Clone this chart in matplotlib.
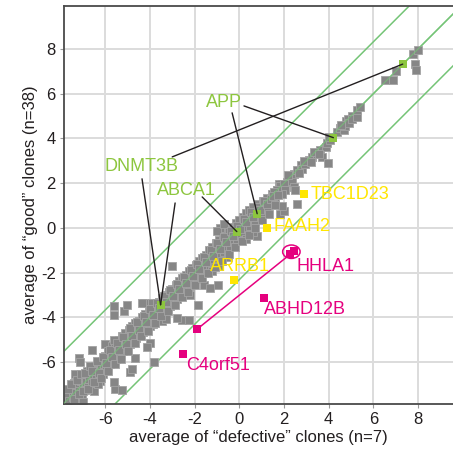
import matplotlib.pyplot as plt
from matplotlib.patches import Ellipse

plt.rcParams['font.family'] = ['Liberation Sans', 'DejaVu Sans']
plt.rcParams['axes.unicode_minus'] = False

# all other genes (grey squares)
gray_x = [-7.75, -7.65, -7.6, -7.5, -7.45, -7.4, -7.35, -7.3, -7.25, -7.2, -7.15, -7.1, -7.05, -7.0,
          -6.95, -6.9, -6.85, -6.8, -6.75, -6.7, -6.65, -6.6, -6.55, -6.5, -6.45, -6.4, -6.35, -6.3,
          -6.25, -6.2, -6.15, -6.1, -6.05, -6.0,
          -7.34, -7.19, -7.12, -6.59, -6.0, -6.3, -7.0,
          -5.95, -5.9, -5.85, -5.8, -5.75, -5.7, -5.65, -5.6, -5.55, -5.5, -5.45, -5.4, -5.35, -5.3,
          -5.25, -5.2, -5.15, -5.1, -5.05, -5.0, -4.95, -4.9, -4.85, -4.8, -4.75, -4.7, -4.65, -4.6, -4.55,
          -5.62, -5.62, -5.17, -5.02, -5.62, -5.55, -5.25, -5.62, -4.65, -4.87, -4.8, -4.27,
          -4.5, -4.45, -4.4, -4.35, -4.3, -4.25, -4.2, -4.15, -4.1, -4.05, -4.0, -3.95, -3.9, -3.85,
          -3.8, -3.75, -3.7, -3.65, -3.6, -3.55, -3.45, -3.4, -3.35, -3.3, -3.25, -3.2, -3.15, -3.1, -3.05,
          -3.9, -3.45, -3.98, -3.83, -3.02, -4.13, -3.3, -4.35,
          -3.0, -2.95, -2.9, -2.85, -2.8, -2.75, -2.7, -2.65, -2.6, -2.55, -2.5, -2.45, -2.4, -2.35,
          -2.3, -2.25, -2.2, -2.15, -2.1, -2.05, -2.0, -1.95, -1.9, -1.85, -1.8, -1.75, -1.7, -1.65, -1.6, -1.55,
          -2.56, -2.26, -2.8, -1.83, -2.2, -1.6,
          -1.5, -1.45, -1.4, -1.35, -1.3, -1.25, -1.2, -1.15, -1.1, -1.05, -1.0, -0.95, -0.9, -0.85,
          -0.8, -0.75, -0.7, -0.65, -0.6, -0.55, -0.5, -0.45, -0.4, -0.35, -0.3, -0.25, -0.2, -0.15,
          -0.1, -0.05, 0.0, 0.05, 0.1, 0.15, 0.2, 0.25, 0.3, 0.35, 0.4, 0.45,
          -0.85, -1.0, -0.7, -1.2, -0.9, -0.5, 0.3, 0.79, 0.6, -1.3, -0.93,
          0.5, 0.55, 0.6, 0.7, 0.75, 0.85, 0.9, 0.95, 1.05, 1.1, 1.15, 1.25, 1.3, 1.35, 1.45, 1.5,
          1.6, 1.7, 1.8, 1.9, 1.84, 1.99, 1.91,
          2.14, 2.29, 2.36, 2.44, 2.59, 2.44, 2.51, 1.76, 1.84, 1.99, 2.06, 1.91, 1.69, 1.54, 2.77,
          2.81, 2.96, 3.11, 3.26, 3.48, 3.63, 3.71, 3.96, 3.86, 3.93, 4.08, 2.59,
          4.38, 4.5, 4.68, 4.75, 4.77, 4.86, 4.9, 5.05, 5.05, 5.25, 5.28, 5.4, 6.52, 6.86, 7.03,
          7.77, 8.0, 7.86, 7.91,
          -7.68, -7.52, -7.38, -7.28, -7.18, -7.08, -6.98, -6.88, -6.78, -6.68, -6.58, -6.48, -6.38,
          -6.28, -6.18, -6.08, -5.98, -5.88, -5.78, -5.68, -5.58, -5.48, -5.38, -5.28, -5.18, -5.08,
          -4.98, -4.88, -4.78, -4.68, -4.58, -4.48, -4.38, -4.28, -4.18, -4.08, -3.98, -3.88, -3.78,
          -3.68, -3.58, -3.48, -3.38, -3.28, -3.18, -3.08, -2.98, -2.88, -2.78, -2.68, -2.58, -2.48,
          -2.38, -2.28, -2.18, -2.08, -1.98, -1.88, -1.78, -1.68, -1.58, -1.48, -1.38, -1.28, -1.18,
          -1.08, -0.98, -0.88, -0.78, -0.68, -0.58, -0.48, -0.38, -0.28, -0.18, -0.08, 0.02, 0.12,
          0.22, 0.32, 0.42, 0.52, 0.62, 0.72, 0.82, 0.92, 1.02, 1.12, 1.22, 1.32, 1.42, 1.52, 1.62,
          1.72, 2.2, 2.65, 2.9, 3.2, 3.35, 3.55, 4.0, 4.55]
gray_y = [-7.65, -7.45, -7.75, -7.2, -7.55, -6.95, -7.35, -7.7, -7.05, -6.6, -7.3, -6.85, -7.5, -7.05,
          -6.6, -7.25, -6.9, -6.4, -7.1, -6.75, -6.3, -6.95, -6.55, -7.3, -6.2, -6.75, -6.4, -6.0,
          -6.85, -6.3, -5.95, -6.55, -6.1, -5.75,
          -6.52, -5.84, -6.0, -5.46, -5.2, -7.0, -7.8,
          -6.35, -5.85, -5.5, -6.1, -5.7, -5.3, -6.0, -5.55, -5.15, -5.85, -5.4, -5.0, -5.7, -5.25,
          -4.85, -5.5, -5.1, -4.7, -5.35, -4.95, -4.55, -5.2, -4.8, -4.4, -5.05, -4.6, -4.25, -4.95, -4.5,
          -3.51, -3.89, -3.74, -3.44, -5.02, -7.19, -7.27, -6.89, -5.84, -6.44, -6.3, -3.36,
          -4.15, -4.8, -4.4, -4.0, -4.65, -4.25, -3.85, -4.55, -4.1, -3.7, -4.4, -3.95, -3.55, -4.3,
          -3.85, -3.4, -4.1, -3.7, -3.3, -3.95, -3.15, -3.75, -3.4, -3.0, -3.65, -3.25, -2.85, -3.5, -3.1,
          -3.36, -4.19, -5.17, -5.99, -1.71, -5.32, -4.1, -3.36,
          -2.75, -3.35, -2.95, -2.55, -3.2, -2.8, -2.4, -3.05, -2.65, -2.25, -2.9, -2.5, -2.1, -2.75,
          -2.35, -1.95, -2.6, -2.2, -1.8, -2.45, -2.05, -1.65, -2.3, -1.9, -1.5, -2.15, -1.75, -1.35, -2.0, -1.6,
          -4.11, -4.11, -4.04, -3.44, -3.0, -2.54,
          -1.2, -1.85, -1.45, -1.0, -1.7, -1.3, -0.85, -1.55, -1.15, -0.7, -1.4, -1.0, -0.55, -1.25,
          -0.85, -0.4, -1.1, -0.7, -0.25, -0.95, -0.55, -0.1, -0.8, -0.4, 0.05, -0.65, -0.25, 0.2,
          -0.5, -0.1, 0.35, -0.35, 0.05, 0.5, -0.2, 0.2, 0.65, -0.05, 0.35, 0.8,
          0.01, -0.14, 0.15, -1.95, -1.7, -1.3, -0.5, -0.36, -0.2, -2.69, -2.54,
          0.1, 0.5, 0.95, 0.3, 0.65, 1.05, 0.5, 0.85, 1.2, 0.7, 1.0, 1.35, 0.9, 1.2, 1.5, 1.1,
          1.35, 1.7, 1.55, 1.95, 0.62, 0.77, 0.99,
          2.04, 2.27, 2.09, 2.39, 2.57, 1.82, 1.67, 1.97, 1.85, 1.94, 1.67, 1.52, 1.7, 1.59, 2.79,
          2.64, 2.84, 3.02, 3.17, 3.32, 3.5, 3.17, 2.9, 3.62, 3.77, 3.92, 1.07,
          4.29, 4.45, 4.37, 4.55, 4.79, 4.85, 4.7, 5.0, 4.85, 4.97, 5.27, 5.42, 6.59, 6.62, 7.01,
          7.79, 7.97, 7.31, 7.04,
          -7.2, -7.0, -7.65, -6.8, -7.45, -6.55, -7.3, -6.5, -7.2, -6.2, -6.4, -6.9, -5.95,
          -6.5, -6.7, -5.8, -6.05, -6.4, -5.45, -5.8, -6.1, -5.15, -5.45, -5.85, -4.9, -5.2,
          -5.5, -4.5, -4.85, -5.15, -4.2, -4.55, -4.85, -3.95, -4.2, -4.6, -3.65, -3.9, -4.25,
          -3.35, -3.6, -3.95, -3.05, -3.3, -3.7, -2.8, -3.05, -3.45, -2.5, -2.75, -3.1, -2.2,
          -2.45, -2.85, -1.9, -2.15, -2.55, -1.6, -1.85, -2.25, -1.3, -1.55, -2.0, -1.0, -1.25,
          -1.75, -0.7, -0.95, -1.5, -0.4, -0.65, -1.15, -0.15, -0.35, -0.85, 0.1, -0.05, -0.6,
          0.4, 0.25, -0.3, 0.7, 0.5, 0.0, 0.95, 0.8, 0.35, 1.2, 1.05, 0.6, 1.3, 1.4, 1.0,
          1.45, 2.35, 2.45, 3.0, 2.95, 3.4, 3.3, 4.05, 4.6]

# highlighted genes
green_x = [7.31, 4.21, 0.8, -0.11, -3.52]
green_y = [7.32, 4.03, 0.63, -0.17, -3.44]
yellow_names = ['TBC1D23', 'FAAH2', 'ARRB1']
yellow_x = [2.91, 1.23, -0.22]
yellow_y = [1.52, 0.0, -2.33]
magenta_x = [2.27, 2.46, 1.12, -1.87, -2.5]
magenta_y = [-1.17, -1.02, -3.15, -4.52, -5.65]

fold = 2.32  # log2(5)

fig = plt.figure(figsize=(4.53, 4.59), dpi=100)
ax = fig.add_axes([0.1413, 0.1198, 0.8587, 0.8672])
ax.set_xlim(-7.84, 9.56)
ax.set_ylim(-7.88, 9.92)

ax.grid(True, color='#dcdcdc', lw=1.4, zorder=0)
ax.set_axisbelow(True)

green_line = '#74c476'
ax.plot([-12, 12], [-12, 12], color=green_line, lw=1.1, zorder=1)
ax.plot([-12, 12], [-12 + fold, 12 + fold], color=green_line, lw=1.1, zorder=1)
ax.plot([-12, 12], [-12 - fold, 12 - fold], color=green_line, lw=1.1, zorder=1)

ax.scatter(gray_x, gray_y, s=27, marker='s', facecolor='#868686', edgecolor='#a3a3a3', lw=0.6, zorder=2)
# diagonal drawn again on top faintly, as in the original
ax.plot([-12, 12], [-12, 12], color=green_line, lw=0.9, alpha=0.7, zorder=3)

ax.scatter(green_x, green_y, s=27, marker='s', color='#8dc63f', lw=0, zorder=4)
ax.scatter(yellow_x, yellow_y, s=27, marker='s', color='#ffe600', lw=0, zorder=4)
ax.scatter(magenta_x, magenta_y, s=27, marker='s', color='#e5007e', lw=0, zorder=4)

# connectors
line_kw = dict(arrowstyle='-', lw=1.0, color='#231f20', shrinkA=0, shrinkB=0)
connectors = [((0.21, 5.45), 1), ((-0.32, 5.14), 2), ((-3.0, 3.17), 0),
              ((-4.35, 2.19), 4), ((-2.87, 1.11), 4), ((-1.66, 1.38), 3)]
for start, idx in connectors:
    ax.annotate('', xy=(green_x[idx], green_y[idx]), xytext=start, arrowprops=line_kw, zorder=5)

ax.add_patch(Ellipse((2.33, -1.07), 0.78, 0.6, fill=False, ec='#e5007e', lw=1.1, zorder=5))
ax.annotate('', xy=(magenta_x[3], magenta_y[3]), xytext=(2.17, -1.27),
            arrowprops=dict(arrowstyle='-', lw=1.1, color='#e5007e', shrinkA=0, shrinkB=0), zorder=5)

fs = 13
ax.text(-0.70, 5.59, 'APP', color='#8dc63f', fontsize=fs, ha='center', va='center', zorder=6)
ax.text(-4.39, 2.72, 'DNMT3B', color='#8dc63f', fontsize=fs, ha='center', va='center', zorder=6)
ax.text(-2.38, 1.69, 'ABCA1', color='#8dc63f', fontsize=fs, ha='center', va='center', zorder=6)
ax.text(3.17, 1.47, yellow_names[0], color='#ffe600', fontsize=fs, ha='left', va='center', zorder=6)
ax.text(1.51, 0.04, yellow_names[1], color='#ffe600', fontsize=fs, ha='left', va='center', zorder=6)
ax.text(-1.31, -1.75, yellow_names[2], color='#ffe600', fontsize=fs, ha='left', va='center', zorder=6)
ax.text(2.58, -1.75, 'HHLA1', color='#e5007e', fontsize=fs, ha='left', va='center', zorder=6)
ax.text(1.11, -3.67, 'ABHD12B', color='#e5007e', fontsize=fs, ha='left', va='center', zorder=6)
ax.text(-2.38, -6.18, 'C4orf51', color='#e5007e', fontsize=fs, ha='left', va='center', zorder=6)

ax.set_xticks([-6, -4, -2, 0, 2, 4, 6, 8])
ax.set_yticks([-6, -4, -2, 0, 2, 4, 6, 8])
ax.tick_params(labelsize=12, length=3, width=0.8, color='#9a9a9a', labelcolor='#231f20', pad=3)
for side in ['left', 'bottom', 'top']:
    ax.spines[side].set_color('#4a4a4a')
    ax.spines[side].set_linewidth(1.3)
ax.spines['right'].set_visible(False)

ax.set_xlabel('average of \u201cdefective\u201d clones (n=7)', fontsize=12, color='#231f20', labelpad=2)
ax.set_ylabel('average of \u201cgood\u201d clones (n=38)', fontsize=12, color='#231f20', labelpad=2)

fig.savefig('out.png', dpi=100)
